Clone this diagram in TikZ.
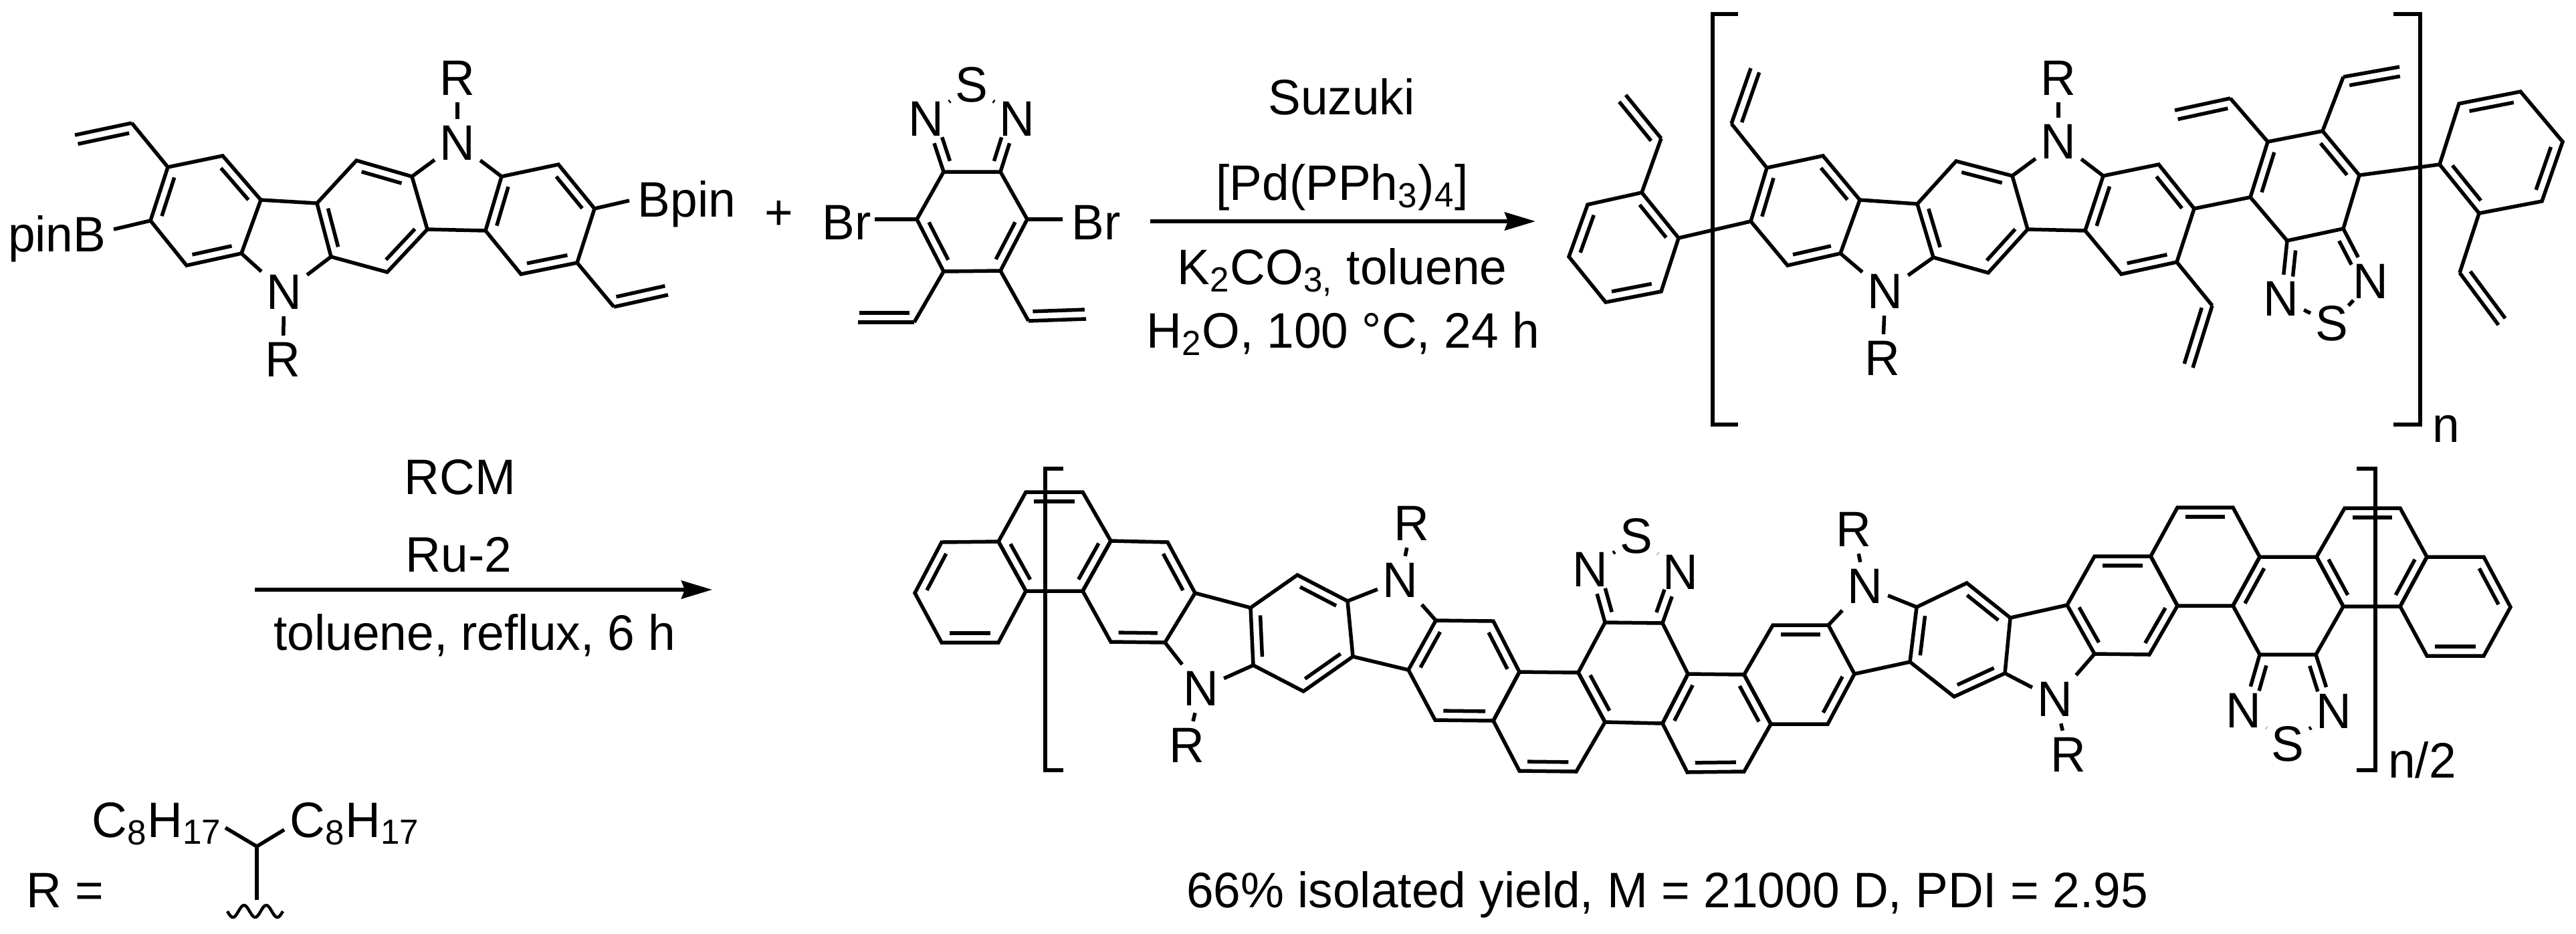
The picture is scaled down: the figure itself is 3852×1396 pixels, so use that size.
\documentclass[tikz,border=0pt]{standalone}
\usepackage{fontspec}
\setmainfont[FakeStretch=0.98]{Liberation Sans}
\usetikzlibrary{calc,arrows.meta}
\tikzset{
  bond/.style={line width=0.055cm},
  atom/.style={inner xsep=2pt,inner ysep=2.8pt,font=\fontsize{21.2pt}{25pt}\selectfont},
  txt/.style={inner sep=0pt,anchor=base,font=\fontsize{21.2pt}{25pt}\selectfont},
  rxn/.style={line width=0.055cm,-{Stealth[length=0.46cm,width=0.27cm,inset=0.05cm]}},
  brk/.style={line width=0.055cm}
}
% inner line of a double bond, offset to one side
\newcommand{\inn}[3][-0.14cm]{\draw[bond] ($(#2)!0.14!(#3)!#1!90:(#3)$) -- ($(#3)!0.14!(#2)!#1!-90:(#2)$);}
\newcommand{\vin}[3][0.14cm]{\draw[bond] (#2) -- (#3); \draw[bond] ($(#2)!0.08!(#3)!#1!90:(#3)$) -- ($(#3)!0.02!(#2)!#1!-90:(#2)$);}
\newcommand{\cnb}[3][0.14cm]{\draw[bond] (#2) -- (#3); \draw[bond] ($(#2)!0.15!(#3)!#1!90:(#3)$) -- ($(#2)!0.6!(#3)!#1!90:(#3)$);}
\newcommand{\hexa}[6]{\draw[bond] (#1) -- (#2) -- (#3) -- (#4) -- (#5) -- (#6) -- cycle;}
\begin{document}
\begin{tikzpicture}[x=0.01cm,y=-0.01cm]
\useasboundingbox (0,0) rectangle (3852,1396);
% monomer 1
\coordinate (a1) at (251,250); \coordinate (a2) at (333,233); \coordinate (a3) at (390,299);
\coordinate (a4) at (361,379); \coordinate (a5) at (279,397); \coordinate (a6) at (225,330);
\coordinate (b1) at (474,304); \coordinate (b2) at (533,240); \coordinate (b3) at (616,264);
\coordinate (b4) at (639,343); \coordinate (b5) at (579,407); \coordinate (b6) at (495,384);
\coordinate (c1) at (750,264); \coordinate (c2) at (835,246); \coordinate (c3) at (889,312);
\coordinate (c4) at (863,393); \coordinate (c5) at (779,410); \coordinate (c6) at (726,345);
\coordinate (v1) at (197,184); \coordinate (v1e) at (112,202);
\coordinate (v2) at (918,459); \coordinate (v2e) at (999,441);
\coordinate (pbe) at (170,343); \coordinate (bpe) at (941,300);
\node[atom] (na) at (684,214) {N};
\node[atom] (ra) at (684,117) {R};
\node[atom] (nb) at (425,437) {N};
\node[atom] (rb) at (423,538) {R};
\node[txt,anchor=base east] (pinb) at (159,376) {pinB};
\node[txt,anchor=base west] (bpin) at (953,324) {Bpin};
\node[txt] (plus) at (1165,343) {+};
\hexa{a1}{a2}{a3}{a4}{a5}{a6}
\hexa{b1}{b2}{b3}{b4}{b5}{b6}
\hexa{c1}{c2}{c3}{c4}{c5}{c6}
\inn{a2}{a3} \inn{a4}{a5} \inn{a6}{a1}
\inn{b6}{b1} \inn{b2}{b3} \inn{b4}{b5}
\inn{c6}{c1} \inn{c2}{c3} \inn{c4}{c5}
\draw[bond] (a3) -- (b1);
\draw[bond] (b4) -- (c6);
\draw[bond] (a1) -- (v1);
\draw[bond] (c4) -- (v2);
\vin{v1}{v1e}
\vin{v2}{v2e}
\draw[bond] (a6) -- (pbe);
\draw[bond] (c3) -- (bpe);
\draw[bond] (b3) -- (na);
\draw[bond] (c1) -- (na);
\draw[bond] (na) -- (ra);
\draw[bond] (a4) -- (nb);
\draw[bond] (b6) -- (nb);
\draw[bond] (nb) -- (rb);
% monomer 2
\coordinate (d1) at (1411,257); \coordinate (d2) at (1496,257); \coordinate (d3) at (1536,328);
\coordinate (d4) at (1496,405); \coordinate (d5) at (1411,406); \coordinate (d6) at (1371,328);
\coordinate (v3) at (1367,482); \coordinate (v3e) at (1283,482);
\coordinate (v4) at (1538,480); \coordinate (v4e) at (1624,477);
\node[atom] (nc) at (1385,178) {N};
\node[atom] (nd) at (1521,178) {N};
\node[atom] (sa) at (1453,127) {S};
\node[txt,anchor=base west] (brl) at (1229,358) {Br};
\node[txt,anchor=base west] (brr) at (1602,358) {Br};
\coordinate (brle) at (1308,328); \coordinate (brre) at (1589,328);
\hexa{d1}{d2}{d3}{d4}{d5}{d6}
\inn{d3}{d4} \inn{d5}{d6}
\draw[bond] (d6) -- (brle);
\draw[bond] (d3) -- (brre);
\draw[bond] (d5) -- (v3);
\draw[bond] (d4) -- (v4);
\vin[-0.14cm]{v3}{v3e}
\vin{v4}{v4e}
\cnb[-0.14cm]{d1}{nc}
\cnb{d2}{nd}
\draw[bond] (nc) -- (sa);
\draw[bond] (nd) -- (sa);
% first arrow
\coordinate (ar1s) at (1720,331); \coordinate (ar1e) at (2296,331);
\draw[rxn] (ar1s) -- (ar1e);
\node[txt] (suz) at (2006,171) {Suzuki};
\node[txt] (pd) at (2007,299) {[Pd(PPh\textsubscript{3})\textsubscript{4}]};
\node[txt] (kco) at (2007,425) {K\textsubscript{2}CO\textsubscript{3,} toluene};
\node[txt] (hto) at (2008,520) {H\textsubscript{2}O, 100 °C, 24 h};
% polymer before RCM
\coordinate (p1) at (2455,288); \coordinate (p2) at (2374,306); \coordinate (p3) at (2346,384);
\coordinate (p4) at (2401,452); \coordinate (p5) at (2484,436); \coordinate (p6) at (2510,356);
\coordinate (q1) at (2642,251); \coordinate (q2) at (2726,233); \coordinate (q3) at (2781,299);
\coordinate (q4) at (2752,379); \coordinate (q5) at (2673,397); \coordinate (q6) at (2618,331);
\coordinate (r1) at (2867,305); \coordinate (r2) at (2925,241); \coordinate (r3) at (3009,263);
\coordinate (r4) at (3032,343); \coordinate (r5) at (2973,408); \coordinate (r6) at (2891,385);
\coordinate (s1) at (3145,263); \coordinate (s2) at (3228,246); \coordinate (s3) at (3281,312);
\coordinate (s4) at (3255,392); \coordinate (s5) at (3172,410); \coordinate (s6) at (3118,345);
\coordinate (t1) at (3365,295); \coordinate (t2) at (3391,212); \coordinate (t3) at (3473,196);
\coordinate (t4) at (3528,262); \coordinate (t5) at (3504,342); \coordinate (t6) at (3420,360);
\coordinate (u1) at (3677,155); \coordinate (u2) at (3769,137); \coordinate (u3) at (3832,212);
\coordinate (u4) at (3801,301); \coordinate (u5) at (3707,319); \coordinate (u6) at (3648,246);
\coordinate (v5) at (2484,207); \coordinate (v5e) at (2431,142);
\coordinate (v6) at (2589,185); \coordinate (v6e) at (2618,102);
\coordinate (v7) at (3308,457); \coordinate (v7e) at (3279,550);
\coordinate (v8) at (3335,147); \coordinate (v8e) at (3252,165);
\coordinate (v9) at (3504,115); \coordinate (v9e) at (3588,100);
\coordinate (v10) at (3678,408); \coordinate (v10e) at (3736,486);
\node[atom] (ne) at (3078,212) {N};
\node[atom] (re) at (3078,117) {R};
\node[atom] (nf) at (2819,436) {N};
\node[atom] (rf) at (2815,536) {R};
\node[atom] (ng) at (3411,447) {N};
\node[atom] (nh) at (3545,421) {N};
\node[atom] (sb) at (3487,484) {S};
\hexa{p1}{p2}{p3}{p4}{p5}{p6}
\hexa{q1}{q2}{q3}{q4}{q5}{q6}
\hexa{r1}{r2}{r3}{r4}{r5}{r6}
\hexa{s1}{s2}{s3}{s4}{s5}{s6}
\hexa{t1}{t2}{t3}{t4}{t5}{t6}
\hexa{u1}{u2}{u3}{u4}{u5}{u6}
\inn{p1}{p6} \inn{p3}{p2} \inn{p5}{p4}
\inn{q2}{q3} \inn{q4}{q5} \inn{q6}{q1}
\inn{r6}{r1} \inn{r2}{r3} \inn{r4}{r5}
\inn{s6}{s1} \inn{s2}{s3} \inn{s4}{s5}
\inn{t1}{t2} \inn{t3}{t4}
\inn{u1}{u2} \inn{u3}{u4} \inn{u5}{u6}
\draw[bond] (p6) -- (q6);
\draw[bond] (q3) -- (r1);
\draw[bond] (r4) -- (s6);
\draw[bond] (s3) -- (t1);
\draw[bond] (t4) -- (u6);
\draw[bond] (p1) -- (v5);
\draw[bond] (q1) -- (v6);
\draw[bond] (s4) -- (v7);
\draw[bond] (t2) -- (v8);
\draw[bond] (t3) -- (v9);
\draw[bond] (u5) -- (v10);
\vin{v5}{v5e}
\vin[-0.14cm]{v6}{v6e}
\vin[-0.14cm]{v7}{v7e}
\vin{v8}{v8e}
\vin[-0.14cm]{v9}{v9e}
\vin{v10}{v10e}
\draw[bond] (r3) -- (ne);
\draw[bond] (s1) -- (ne);
\draw[bond] (ne) -- (re);
\draw[bond] (q4) -- (nf);
\draw[bond] (r6) -- (nf);
\draw[bond] (nf) -- (rf);
\cnb{t6}{ng}
\cnb[-0.14cm]{t5}{nh}
\draw[bond] (ng) -- (sb);
\draw[bond] (nh) -- (sb);
\coordinate (bk1a) at (2599,21); \coordinate (bk1b) at (2561,21); \coordinate (bk1c) at (2561,635); \coordinate (bk1d) at (2599,635);
\coordinate (bk2a) at (3579,21); \coordinate (bk2b) at (3619,21); \coordinate (bk2c) at (3619,635); \coordinate (bk2d) at (3579,635);
\draw[brk] (bk1a) -- (bk1b) -- (bk1c) -- (bk1d);
\draw[brk] (bk2a) -- (bk2b) -- (bk2c) -- (bk2d);
\node[txt] (sn) at (3658,661) {n};
% second arrow
\coordinate (ar2s) at (381,882); \coordinate (ar2e) at (1065,882);
\draw[rxn] (ar2s) -- (ar2e);
\node[txt] (rcm) at (688,739) {RCM};
\node[txt] (ru) at (686,855) {Ru-2};
\node[txt] (tol) at (710,972) {toluene, reflux, 6 h};
% side chain
\coordinate (w1) at (384,1266); \coordinate (w1l) at (337,1238); \coordinate (w1r) at (425,1241); \coordinate (w1d) at (384,1346);
\node[txt,anchor=base west] (req) at (39,1357) {R =};
\node[txt,anchor=base west] (cl) at (137,1252) {C\textsubscript{8}H\textsubscript{17}};
\node[txt,anchor=base west] (cr) at (433,1252) {C\textsubscript{8}H\textsubscript{17}};
\draw[bond] (w1l) -- (w1) -- (w1r);
\draw[bond] (w1) -- (w1d);
\draw[line width=0.045cm] plot[smooth,domain=0:83,samples=50] ({340+\x},{1363+9*sin(\x/83*900)});
% ladder polymer
\coordinate (A1) at (1408,811); \coordinate (A2) at (1493,810); \coordinate (A3) at (1534,884);
\coordinate (A4) at (1493,961); \coordinate (A5) at (1408,961); \coordinate (A6) at (1368,887);
\coordinate (B2) at (1534,736); \coordinate (B3) at (1619,736); \coordinate (B4) at (1661,809); \coordinate (B5) at (1619,884);
\coordinate (C2) at (1746,811); \coordinate (C3) at (1787,887); \coordinate (C4) at (1742,961); \coordinate (C5) at (1661,960);
\coordinate (D1) at (1870,909); \coordinate (D2) at (1940,860); \coordinate (D3) at (2015,899);
\coordinate (D4) at (2023,982); \coordinate (D5) at (1949,1034); \coordinate (D6) at (1874,995);
\coordinate (E1) at (2147,928); \coordinate (E2) at (2233,929); \coordinate (E3) at (2272,1005);
\coordinate (E4) at (2233,1078); \coordinate (E5) at (2146,1077); \coordinate (E6) at (2106,1002);
\coordinate (F2) at (2360,1006); \coordinate (F3) at (2400,1080); \coordinate (F4) at (2357,1154); \coordinate (F5) at (2272,1153);
\coordinate (G2) at (2400,931); \coordinate (G3) at (2486,932); \coordinate (G4) at (2524,1008); \coordinate (G5) at (2486,1082);
\coordinate (H2) at (2608,1009); \coordinate (H3) at (2648,1083); \coordinate (H4) at (2608,1154); \coordinate (H5) at (2523,1155);
\coordinate (I2) at (2651,935); \coordinate (I3) at (2734,935); \coordinate (I4) at (2773,1008); \coordinate (I5) at (2733,1083);
\coordinate (J1) at (2866,908); \coordinate (J2) at (2941,872); \coordinate (J3) at (3006,924);
\coordinate (J4) at (2998,1007); \coordinate (J5) at (2922,1042); \coordinate (J6) at (2856,990);
\coordinate (K1) at (3091,905); \coordinate (K2) at (3132,832); \coordinate (K3) at (3216,832);
\coordinate (K4) at (3256,906); \coordinate (K5) at (3214,979); \coordinate (K6) at (3132,978);
\coordinate (L2) at (3256,759); \coordinate (L3) at (3339,759); \coordinate (L4) at (3379,833); \coordinate (L5) at (3339,906);
\coordinate (M3) at (3464,833); \coordinate (M4) at (3504,907); \coordinate (M5) at (3463,979); \coordinate (M6) at (3379,979);
\coordinate (P2) at (3506,760); \coordinate (P3) at (3589,760); \coordinate (P4) at (3629,833); \coordinate (P5) at (3589,907);
\coordinate (O1) at (3714,833); \coordinate (O2) at (3754,908); \coordinate (O3) at (3714,981); \coordinate (O4) at (3629,981);
\node[atom] (ni) at (1796,1030) {N};
\node[atom] (ri) at (1775,1115) {R};
\node[atom] (nj) at (2094,868) {N};
\node[atom] (rj) at (2111,783) {R};
\node[atom] (nk) at (2378,852) {N};
\node[atom] (nl) at (2513,856) {N};
\node[atom] (sc) at (2447,802) {S};
\node[atom] (nm) at (2789,877) {N};
\node[atom] (rm) at (2772,792) {R};
\node[atom] (nn) at (3073,1046) {N};
\node[atom] (rn) at (3093,1129) {R};
\node[atom] (no) at (3355,1063) {N};
\node[atom] (nq) at (3490,1064) {N};
\node[atom] (sd) at (3421,1113) {S};
\hexa{A1}{A2}{A3}{A4}{A5}{A6}
\hexa{A2}{B2}{B3}{B4}{B5}{A3}
\hexa{B4}{C2}{C3}{C4}{C5}{B5}
\hexa{D1}{D2}{D3}{D4}{D5}{D6}
\hexa{E1}{E2}{E3}{E4}{E5}{E6}
\hexa{E3}{F2}{F3}{F4}{F5}{E4}
\hexa{F2}{G2}{G3}{G4}{G5}{F3}
\hexa{G4}{H2}{H3}{H4}{H5}{G5}
\hexa{H2}{I2}{I3}{I4}{I5}{H3}
\hexa{J1}{J2}{J3}{J4}{J5}{J6}
\hexa{K1}{K2}{K3}{K4}{K5}{K6}
\hexa{K3}{L2}{L3}{L4}{L5}{K4}
\hexa{L5}{L4}{M3}{M4}{M5}{M6}
\hexa{M3}{P2}{P3}{P4}{P5}{M4}
\hexa{P4}{O1}{O2}{O3}{O4}{P5}
\inn{A6}{A1} \inn{A3}{A2} \inn{A4}{A5}
\inn{B2}{B3} \inn{B4}{B5}
\inn{C2}{C3} \inn{C4}{C5}
\inn{D6}{D1} \inn{D2}{D3} \inn{D4}{D5}
\inn{E6}{E1} \inn{E2}{E3} \inn{E4}{E5}
\inn{F3}{F2} \inn{F4}{F5}
\inn{G5}{G4}
\inn{H2}{H3} \inn{H4}{H5}
\inn{I2}{I3} \inn{I4}{I5}
\inn{J6}{J1} \inn{J2}{J3} \inn{J4}{J5}
\inn{K6}{K1} \inn{K2}{K3} \inn{K4}{K5}
\inn{L2}{L3} \inn{L5}{L4}
\inn{M4}{M3}
\inn{P2}{P3} \inn{P4}{P5}
\inn{O1}{O2} \inn{O3}{O4}
\draw[bond] (C3) -- (D1);
\draw[bond] (D4) -- (E6);
\draw[bond] (I4) -- (J6);
\draw[bond] (J3) -- (K1);
\draw[bond] (C4) -- (ni);
\draw[bond] (D6) -- (ni);
\draw[bond] (ni) -- (ri);
\draw[bond] (D3) -- (nj);
\draw[bond] (E1) -- (nj);
\draw[bond] (nj) -- (rj);
\draw[bond] (I3) -- (nm);
\draw[bond] (J1) -- (nm);
\draw[bond] (nm) -- (rm);
\draw[bond] (J4) -- (nn);
\draw[bond] (K6) -- (nn);
\draw[bond] (nn) -- (rn);
\cnb[-0.14cm]{G2}{nk}
\cnb{G3}{nl}
\draw[bond] (nk) -- (sc);
\draw[bond] (nl) -- (sc);
\cnb{M6}{no}
\cnb[-0.14cm]{M5}{nq}
\draw[bond] (no) -- (sd);
\draw[bond] (nq) -- (sd);
\coordinate (bk3a) at (1590,701); \coordinate (bk3b) at (1563,701); \coordinate (bk3c) at (1563,1152); \coordinate (bk3d) at (1590,1152);
\coordinate (bk4a) at (3524,701); \coordinate (bk4b) at (3552,701); \coordinate (bk4c) at (3552,1152); \coordinate (bk4d) at (3524,1152);
\draw[brk] (bk3a) -- (bk3b) -- (bk3c) -- (bk3d);
\draw[brk] (bk4a) -- (bk4b) -- (bk4c) -- (bk4d);
\node[txt] (sn2) at (3622,1163) {n/2};
\node[txt] (yld) at (2493,1357) {66\% isolated yield, M = 21000 D, PDI = 2.95};
\end{tikzpicture}
\end{document}
